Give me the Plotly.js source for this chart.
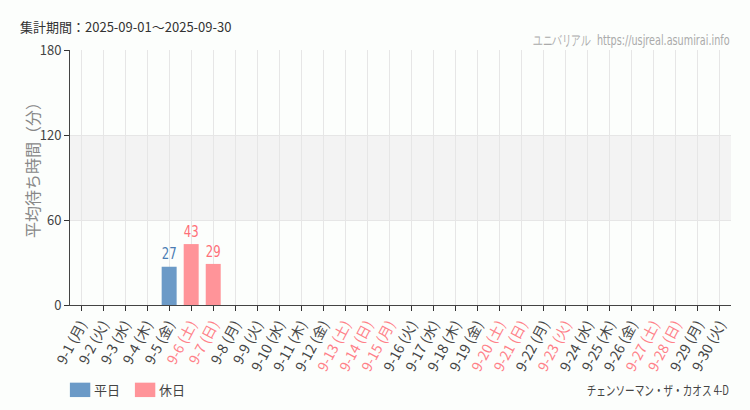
<!DOCTYPE html>
<html><head><meta charset="utf-8">
<script src="https://cdn.plot.ly/plotly-3.0.1.min.js"></script>
<style>html,body{margin:0;padding:0;background:#fcfefc;}#chart{width:750px;height:410px;}</style>
</head><body><div id="chart"></div>
<script>
const dates = ["9-1","9-2","9-3","9-4","9-5","9-6","9-7","9-8","9-9","9-10","9-11","9-12","9-13","9-14","9-15","9-16","9-17","9-18","9-19","9-20","9-21","9-22","9-23","9-24","9-25","9-26","9-27","9-28","9-29","9-30"];
const weekdays = ["月","火","水","木","金","土","日","月","火","水","木","金","土","日","月","火","水","木","金","土","日","月","火","水","木","金","土","日","月","火"];
const holiday = [0,0,0,0,0,1,1,0,0,0,0,0,1,1,1,0,0,0,0,1,1,0,1,0,0,0,1,1,0,0];
const waitWeekday = [null,null,null,null,27,null,null,null,null,null,null,null,null,null,null,null,null,null,null,null,null,null,null,null,null,null,null,null,null,null];
const waitHoliday = [null,null,null,null,null,43,29,null,null,null,null,null,null,null,null,null,null,null,null,null,null,null,null,null,null,null,null,null,null,null];
const yTicks = [0,60,120,180];

const ticktext = dates.map((d,i)=>{
  const t = d + " (" + weekdays[i] + ")";
  return holiday[i] ? '<span style="color:#ff8088">' + t + '</span>' : t;
});

const lblFont = {family:"DejaVu Sans", stretch:"condensed", size:15};
const traces = [
  {type:"bar", name:"平日", x:dates, y:waitWeekday, marker:{color:"#6b9ac7"},
   text:waitWeekday.map(v=>v==null?"":String(v)), textposition:"outside", cliponaxis:false, constraintext:"none",
   textfont:Object.assign({color:"#4a7cb3"},lblFont), width:0.68, hoverinfo:"none"},
  {type:"bar", name:"休日", x:dates, y:waitHoliday, marker:{color:"#ff9499"},
   text:waitHoliday.map(v=>v==null?"":String(v)), textposition:"outside", cliponaxis:false, constraintext:"none",
   textfont:Object.assign({color:"#ff6f78"},lblFont), width:0.68, hoverinfo:"none"}
];

const layout = {
  width:750, height:410,
  margin:{l:70, r:19, t:50, b:105, autoexpand:false},
  paper_bgcolor:"#fcfefc", plot_bgcolor:"#fcfefc",
  barmode:"overlay",
  font:{family:"Noto Sans CJK JP, sans-serif", color:"#444"},
  title:{text:"集計期間：2025-09-01～2025-09-30", x:20/750, xanchor:"left", y:1-27/410, yanchor:"middle",
         xref:"container", yref:"container", font:{size:13, color:"#333", family:"Noto Sans CJK JP, sans-serif"}},
  xaxis:{type:"category", categoryorder:"array", categoryarray:dates, tickmode:"array", tickvals:dates, ticktext:ticktext,
         tickangle:-62, ticks:"outside", ticklen:5, tickcolor:"#333", showline:true, linecolor:"#444", linewidth:1,
         showgrid:true, gridcolor:"#e6e6e6", tickfont:{size:14, color:"#444"}, range:[-0.5,29.5], fixedrange:true, automargin:false},
  yaxis:{range:[0,180], tickvals:yTicks, ticks:"outside", ticklen:5, tickcolor:"#333", showline:true, linecolor:"#444",
         showgrid:true, gridcolor:"#e6e6e6", zeroline:false, tickfont:{size:13, color:"#444"}, automargin:false, fixedrange:true},
  shapes:[{type:"rect", xref:"paper", x0:0, x1:1, yref:"y", y0:60, y1:120, fillcolor:"#f3f3f3", line:{width:0}, layer:"below"}],
  showlegend:true,
  legend:{orientation:"h", x:-0.015, xanchor:"left", y:-0.333, yanchor:"middle", font:{size:13, color:"#444"}, bgcolor:"rgba(0,0,0,0)"},
  annotations:[
    {xref:"paper", yref:"paper", x:-0.0575, y:0.545, xanchor:"center", yanchor:"middle", showarrow:false, textangle:-90,
     text:"平均待ち時間（分）", font:{size:16, color:"#888", family:"Noto Sans CJK JP, sans-serif"}},
    {xref:"paper", yref:"paper", x:1, y:1.04, xanchor:"right", yanchor:"middle", showarrow:false,
     text:"ユニバリアル  https://usjreal.asumirai.info", font:{size:14, color:"#aaa", family:"DejaVu Sans", stretch:"condensed"}},
    {xref:"paper", yref:"paper", x:1, y:-0.333, xanchor:"right", yanchor:"middle", showarrow:false,
     text:"チェンソーマン・ザ・カオス 4-D", font:{size:13, color:"#444", family:"Noto Sans CJK JP, sans-serif"}}
  ]
};
Plotly.newPlot("chart", traces, layout, {staticPlot:true, displayModeBar:false}).then(gd=>{
  // horizontally condense the two corner captions, anchored at their right edges
  const anns = gd.querySelectorAll(".annotation");
  [[1,0.69],[2,0.74]].forEach(([i,s])=>{
    const a = anns[i]; if(!a) return;
    const bb = a.getBBox();
    const right = bb.x + bb.width;
    a.setAttribute("transform", "translate(" + (right*(1-s)) + ",0) scale(" + s + ",1)");
  });
  gd.querySelectorAll("text.bartext").forEach(t=>{
    const bb = t.getBBox();
    const cx = bb.x + bb.width/2, cy = bb.y + bb.height;
    const old = t.getAttribute("transform") || "";
    t.setAttribute("transform", old + " translate(" + cx + "," + cy + ") scale(0.78,1.1) translate(" + (-cx) + "," + (-cy) + ")");
  });
  gd.querySelectorAll(".legendpoints path").forEach(p=>{
    const old = p.getAttribute("transform") || "";
    p.setAttribute("transform", old + " scale(1.7,1.2)");
  });
  gd.querySelectorAll(".legend .traces").forEach((g,i)=>{
    const old = g.getAttribute("transform") || "";
    g.setAttribute("transform", old + " translate(" + (-6*i) + ",0)");
    const t = g.querySelector("text.legendtext");
    if(t){ t.setAttribute("x", parseFloat(t.getAttribute("x")||0) - 6); }
  });
});
</script></body></html>
